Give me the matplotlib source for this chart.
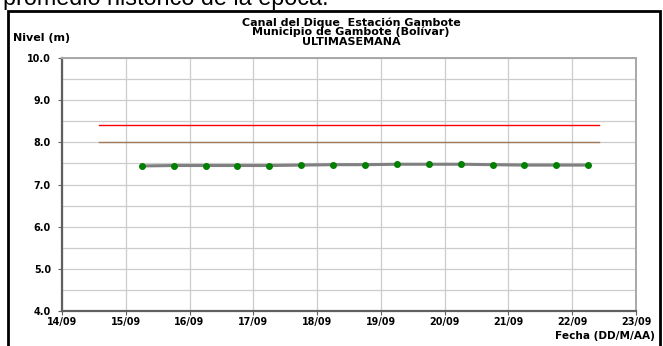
import matplotlib
matplotlib.use("Agg")
import matplotlib.pyplot as plt
import matplotlib.dates as mdates
import pandas as pd

plt.rcParams["font.family"] = ["DejaVu Sans"]

# Lecturas de nivel (cada 12 h)
fechas = pd.to_datetime([
    "2023-09-15 06:00", "2023-09-15 18:00", "2023-09-16 06:00", "2023-09-16 18:00",
    "2023-09-17 06:00", "2023-09-17 18:00", "2023-09-18 06:00", "2023-09-18 18:00",
    "2023-09-19 06:00", "2023-09-19 18:00", "2023-09-20 06:00", "2023-09-20 18:00",
    "2023-09-21 06:00", "2023-09-21 18:00", "2023-09-22 06:00",
])
nivel = [7.44, 7.45, 7.45, 7.45, 7.45, 7.46, 7.47, 7.47,
         7.48, 7.48, 7.48, 7.47, 7.46, 7.46, 7.46]

# Niveles de referencia
ref_fechas = pd.to_datetime(["2023-09-14 14:00", "2023-09-22 10:00"])
alerta = [8.4, 8.4]
promedio = [8.0, 8.0]

xmin, xmax = pd.Timestamp("2023-09-14"), pd.Timestamp("2023-09-23")

W, H = 663, 346
fig = plt.figure(figsize=(W / 100, H / 100), dpi=100)

# texto del párrafo anterior, cortado por el borde superior
fig.text(3 / W, 1 - 5 / H, "promedio histórico de la época.", fontsize=16.8,
         family="Liberation Sans", va="baseline", ha="left", color="black")
fig.patches.append(plt.Rectangle((8 / W, -0.01), 652 / W, 1 - 11 / H + 0.01,
                                 transform=fig.transFigure, fill=False,
                                 edgecolor="black", linewidth=2))

ax = fig.add_axes([62 / W, 35 / H, 574 / W, 253 / H])

ax.plot(ref_fechas, alerta, color="#ff0000", linewidth=1.0, zorder=3)
ax.plot(ref_fechas, promedio, color="#a0785a", linewidth=1.0, zorder=3)
ax.plot(fechas, nivel, color="#808080", linewidth=2.2, zorder=4)
ax.plot(fechas, nivel, linestyle="none", marker="o", markersize=4,
        color="#008000", zorder=5)

ax.set_xlim(xmin, xmax)
ax.set_ylim(4.0, 10.0)
ax.xaxis.set_major_locator(mdates.DayLocator())
ax.xaxis.set_major_formatter(mdates.DateFormatter("%d/%m"))
ax.set_yticks([4, 5, 6, 7, 8, 9, 10])
ax.set_yticks([4.5, 5.5, 6.5, 7.5, 8.5, 9.5], minor=True)
ax.yaxis.set_major_formatter(matplotlib.ticker.FormatStrFormatter("%.1f"))

ax.grid(True, which="major", color="#cccccc", linewidth=0.9)
ax.grid(True, which="minor", axis="y", color="#cccccc", linewidth=0.9)
ax.tick_params(which="minor", length=0)
ax.tick_params(axis="both", which="major", labelsize=6.9, length=3,
               color="#606060")
ax.tick_params(axis="y", pad=5)
ax.tick_params(axis="x", pad=1.5)
for lab in ax.get_xticklabels() + ax.get_yticklabels():
    lab.set_fontweight("bold")

for side in ("left", "bottom"):
    ax.spines[side].set_color("#606060")
    ax.spines[side].set_linewidth(1.6)
for side in ("top", "right"):
    ax.spines[side].set_color("#a8a8a8")
    ax.spines[side].set_linewidth(1.4)

fig.text(351 / W, 1 - 32 / H,
         "Canal del Dique  Estación Gambote\nMunicipio de Gambote (Bolívar)\nULTIMASEMANA",
         ha="center", va="center", fontsize=8.0, fontweight="bold",
         linespacing=0.9)
fig.text(13 / W, 1 - 38 / H, "Nivel (m)", ha="left", va="center",
         fontsize=8.0, fontweight="bold")
fig.text(655 / W, 1 - 336 / H, "Fecha (DD/M/AA)", ha="right",
         va="center", fontsize=7.6, fontweight="bold")

fig.savefig("out.png", dpi=100)
